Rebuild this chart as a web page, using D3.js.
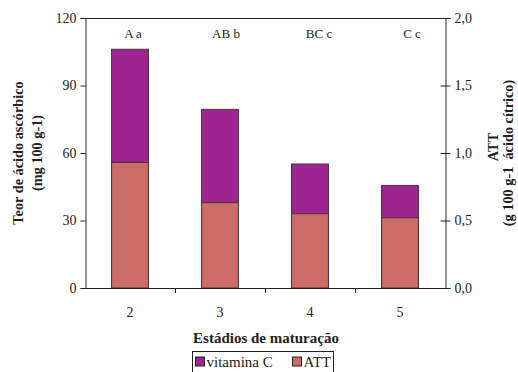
<!DOCTYPE html>
<html>
<head>
<meta charset="utf-8">
<script src="https://cdn.jsdelivr.net/npm/d3@7"></script>
<style>
  html, body { margin: 0; padding: 0; background: #fff; }
  svg { display: block; }
  text { font-family: "Liberation Serif", "Times New Roman", serif; fill: #222; }
</style>
</head>
<body>
<div id="chart"></div>
<script>
// Maturation stages and measured values
const stages = ["2", "3", "4", "5"];
const vitaminC = [106.1, 79.4, 55.1, 45.6];      // mg 100 g-1 (left axis)
const att = [0.93, 0.632, 0.55, 0.52];           // g 100 g-1 ácido cítrico (right axis)
const letters = ["A a", "AB b", "BC c", "C c"];
const leftTicks = [0, 30, 60, 90, 120];
const rightTicks = [0, 0.5, 1.0, 1.5, 2.0];

const W = 518, H = 372;
const plot = { left: 85, right: 445, top: 18, bottom: 288 };
const colVitC = "#9e2590";
const colATT = "#cc6c68";
const edge = "#4a3535";

const svg = d3.select("#chart").append("svg").attr("width", W).attr("height", H);

const x = d3.scaleBand().domain(stages).range([plot.left, plot.right]).paddingInner(0.59).paddingOuter(0.295);
const yL = d3.scaleLinear().domain([0, 120]).range([plot.bottom, plot.top]);
const yR = d3.scaleLinear().domain([0, 2]).range([plot.bottom, plot.top]);

// Vitamin C bars (left scale), ATT bars drawn over them (right scale)
svg.append("g").selectAll("rect").data(stages).join("rect")
  .attr("x", d => x(d)).attr("width", x.bandwidth())
  .attr("y", (d, i) => yL(vitaminC[i]))
  .attr("height", (d, i) => yL(0) - yL(vitaminC[i]))
  .attr("fill", colVitC).attr("stroke", edge).attr("stroke-width", 1);

svg.append("g").selectAll("rect").data(stages).join("rect")
  .attr("x", d => x(d)).attr("width", x.bandwidth())
  .attr("y", (d, i) => yR(att[i]))
  .attr("height", (d, i) => yR(0) - yR(att[i]))
  .attr("fill", colATT).attr("stroke", edge).attr("stroke-width", 1);

// Frame: top border
svg.append("line").attr("x1", plot.left).attr("x2", plot.right)
  .attr("y1", plot.top + 0.5).attr("y2", plot.top + 0.5).attr("stroke", "#222");

// Left axis
const gL = svg.append("g").attr("transform", `translate(${plot.left + 0.5},0)`)
  .call(d3.axisLeft(yL).tickValues(leftTicks).tickSize(5).tickPadding(4));
gL.select(".domain").attr("stroke", "#222");
gL.selectAll(".tick line").attr("stroke", "#222");
gL.selectAll(".tick text").attr("font-size", 14).attr("font-family", "Liberation Serif").attr("fill", "#222");

// Right axis, ticks crossing the line
const fmtR = v => d3.format(".1f")(v).replace(".", ",");
const gR = svg.append("g").attr("transform", `translate(${plot.right + 0.5},0)`)
  .call(d3.axisRight(yR).tickValues(rightTicks).tickFormat(fmtR).tickSize(5).tickPadding(4));
gR.select(".domain").attr("stroke", "#222");
gR.selectAll(".tick line").attr("x1", -5).attr("stroke", "#222");
gR.selectAll(".tick text").attr("font-size", 14).attr("font-family", "Liberation Serif").attr("fill", "#222");

// Bottom axis: baseline, ticks between categories, labels centred under bars
svg.append("line").attr("x1", plot.left).attr("x2", plot.right)
  .attr("y1", plot.bottom + 0.5).attr("y2", plot.bottom + 0.5).attr("stroke", "#222");
const step = x.step();
svg.append("g").selectAll("line").data(stages.slice(1)).join("line")
  .attr("x1", d => Math.round(x(d) - (step - x.bandwidth()) / 2) + 0.5)
  .attr("x2", d => Math.round(x(d) - (step - x.bandwidth()) / 2) + 0.5)
  .attr("y1", plot.bottom).attr("y2", plot.bottom + 5).attr("stroke", "#222");
svg.append("g").selectAll("text").data(stages).join("text")
  .attr("x", d => x(d) + x.bandwidth() / 2).attr("y", plot.bottom + 29)
  .attr("text-anchor", "middle").attr("font-size", 14).text(d => d);

// Significance letters above bars
svg.append("g").selectAll("text").data(letters).join("text")
  .attr("x", (d, i) => x(stages[i]) + x.bandwidth() / 2 + 3 + 3 * i)
  .attr("y", 38).attr("text-anchor", "middle").attr("font-size", 13).text(d => d);

// Axis titles
svg.append("text").attr("x", (plot.left + plot.right) / 2 + 1).attr("y", 343)
  .attr("text-anchor", "middle").attr("font-size", 15).attr("font-weight", "bold")
  .text("Estádios de maturação");

const midY = (plot.top + plot.bottom) / 2;
const leftTitle = svg.append("text").attr("transform", `translate(0,${midY}) rotate(-90)`)
  .attr("text-anchor", "middle").attr("font-size", 14.3).attr("font-weight", "bold");
leftTitle.append("tspan").attr("x", 0).attr("y", 23).text("Teor de ácido ascórbico");
leftTitle.append("tspan").attr("x", 0).attr("y", 42).text("(mg 100 g-1)");

const rightTitle = svg.append("text").attr("transform", `translate(0,${midY}) rotate(-90)`)
  .attr("text-anchor", "middle").attr("font-size", 14.3).attr("font-weight", "bold");
rightTitle.append("tspan").attr("x", 6).attr("y", 498).text("ATT");
rightTitle.append("tspan").attr("x", 0).attr("y", 513).attr("xml:space", "preserve").text("(g 100 g-1  ácido cítrico)");

// Legend
const legend = svg.append("g").attr("transform", "translate(192.5,351.5)");
legend.append("rect").attr("width", 141).attr("height", 21).attr("fill", "#fff").attr("stroke", "#222");
const items = [{ name: "vitamina C", color: colVitC }, { name: "ATT", color: colATT }];
const itemX = [3, 100];
items.forEach((it, i) => {
  legend.append("rect").attr("x", itemX[i]).attr("y", 5.5).attr("width", 9).attr("height", 9)
    .attr("fill", it.color).attr("stroke", "#222");
  legend.append("text").attr("x", itemX[i] + 11).attr("y", 15.5).attr("font-size", 15).text(it.name);
});
</script>
</body>
</html>
